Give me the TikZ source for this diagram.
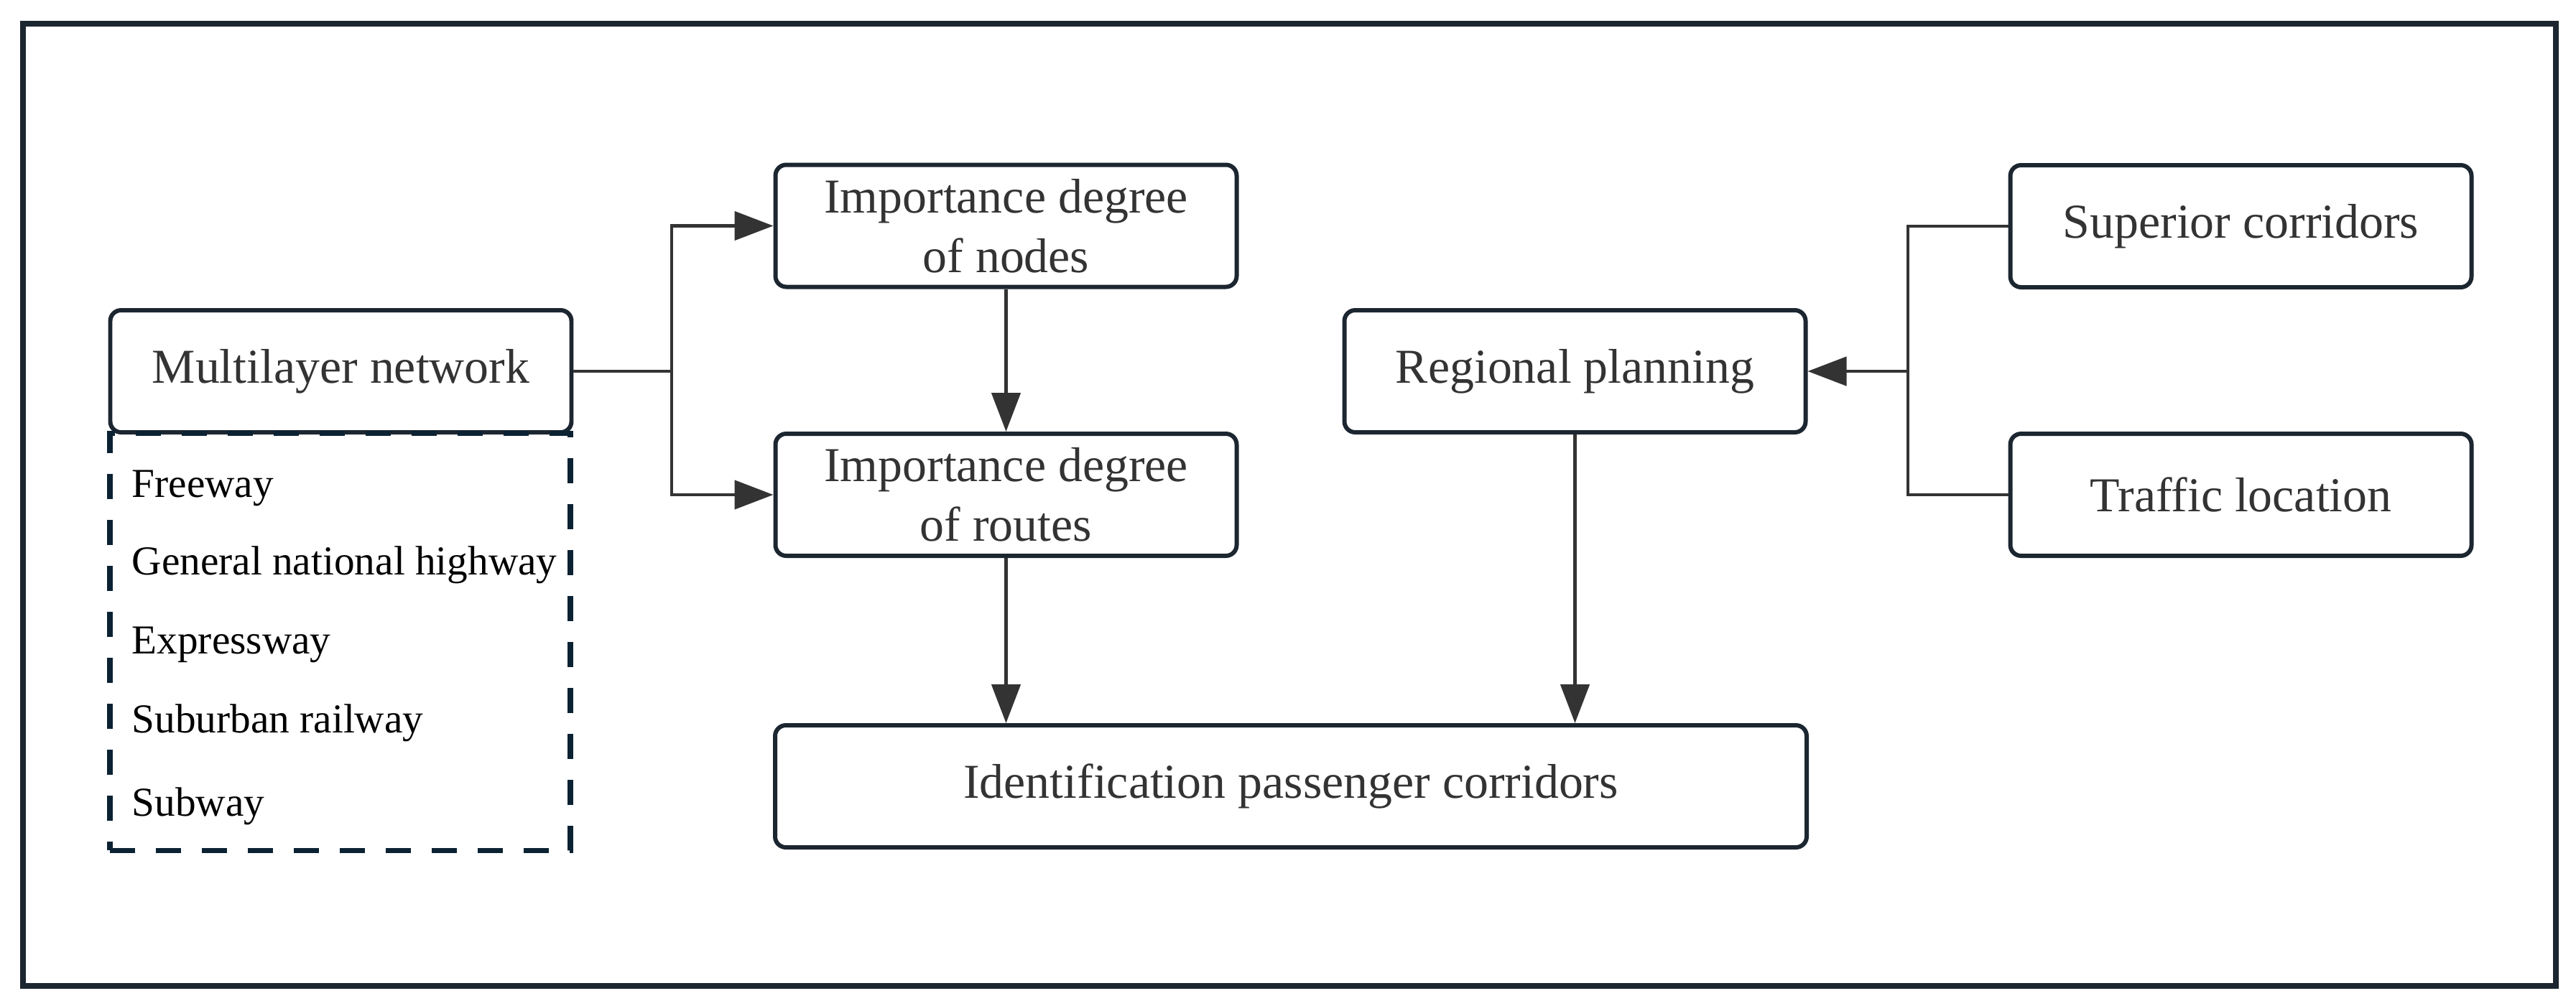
\documentclass[tikz,border=0pt]{standalone}
\usepackage{fontspec}
\setmainfont{Liberation Serif}
\usetikzlibrary{arrows.meta}
\definecolor{boxline}{HTML}{1C2630}
\definecolor{connc}{HTML}{333333}
\definecolor{dashc}{HTML}{0B2233}
\definecolor{txt}{HTML}{333333}
\begin{document}
\begin{tikzpicture}[x=1cm,y=1cm,
  box/.style={draw=boxline, line width=1.7pt, rounded corners=0.15cm,
    minimum width=6.42cm, minimum height=1.70cm, inner sep=0pt, align=center,
    text=txt, font=\fontsize{19.3}{23.5}\selectfont},
  conn/.style={draw=connc, line width=1.3pt},
  arr/.style={conn, -{Triangle[length=0.54cm,width=0.40cm]}},
  item/.style={anchor=base west, font=\fontsize{16.3}{19}\selectfont, text=black, inner sep=0pt},
  dbox/.style={draw=dashc, line width=2pt, dash pattern=on 0.35cm off 0.29cm,
    minimum width=6.41cm, minimum height=5.81cm, inner sep=0pt}]
\useasboundingbox (0,0) rectangle (35.86,-13.93);
\node[draw=boxline, line width=2.2pt, minimum width=35.26cm, minimum height=13.40cm, inner sep=0pt] (frame) at (17.95,-7.03) {};

\node[box] (ML) at (4.745,-5.17) {Multilayer network};
\node[box] (IN) at (14.005,-3.145) {Importance degree\\of nodes};
\node[box] (IR) at (14.005,-6.89) {Importance degree\\of routes};
\node[box] (RP) at (21.925,-5.17) {Regional planning};
\node[box] (SC) at (31.195,-3.15) {Superior corridors};
\node[box] (TL) at (31.195,-6.89) {Traffic location};
\node[box, minimum width=14.36cm] (ID) at (17.97,-10.95) {Identification passenger corridors};

\node[dbox] (list) at (4.735,-8.935) {};
\node[item] (f1) at (1.83,-6.92) {Freeway};
\node[item] (f2) at (1.83,-8.00) {General national highway};
\node[item] (f3) at (1.83,-9.10) {Expressway};
\node[item] (f4) at (1.83,-10.20) {Suburban railway};
\node[item] (f5) at (1.83,-11.36) {Subway};

\coordinate (jl) at (9.35,-5.17);
\draw[conn] (ML.east) -- (jl);
\draw[arr] (jl) |- (IN.west);
\draw[arr] (jl) |- (IR.west);
\draw[arr] (IN.south) -- (IR.north);
\draw[arr] (IR.south) -- (IR.south |- ID.north);
\draw[arr] (RP.south) -- (RP.south |- ID.north);

\coordinate (jr) at (26.56,-5.17);
\draw[conn] (SC.west) -| (jr) |- (TL.west);
\draw[arr] (jr) -- (RP.east);
\end{tikzpicture}
\end{document}
